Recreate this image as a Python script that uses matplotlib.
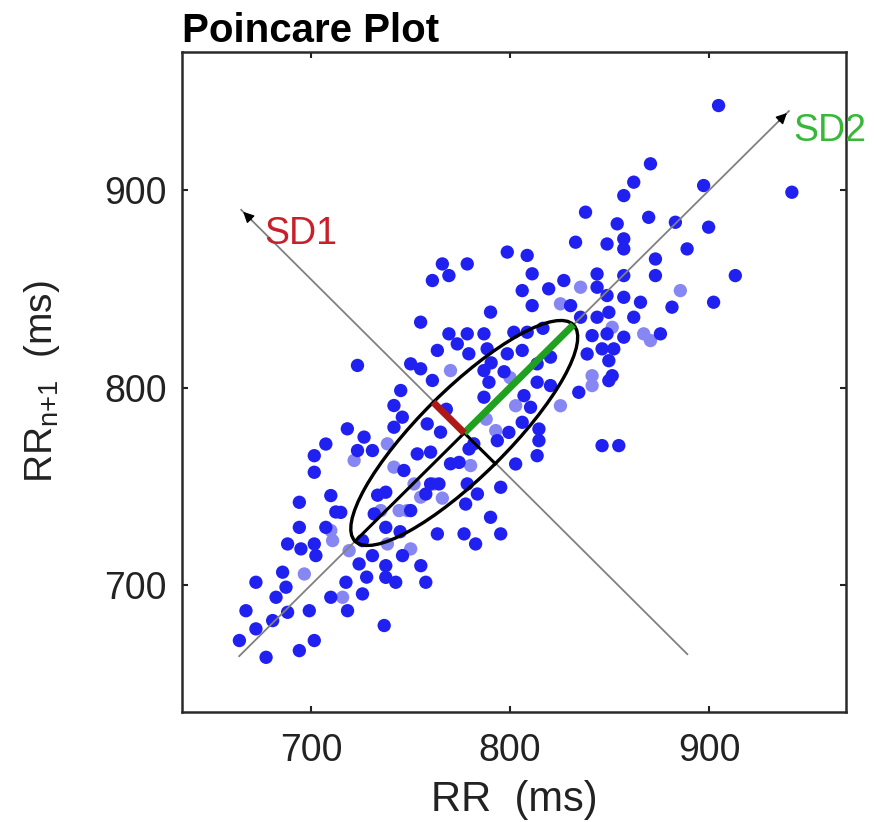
import numpy as np
import matplotlib
matplotlib.use('Agg')
import matplotlib.pyplot as plt
from matplotlib.patches import Ellipse

plt.rcParams['font.family'] = ['Liberation Sans', 'DejaVu Sans']
plt.rcParams['mathtext.fontset'] = 'custom'
plt.rcParams['mathtext.rm'] = 'Liberation Sans'

# RR(n), RR(n+1) in ms
rr_x = [707.5, 701.7, 701.7, 694.2, 710.0, 694.2, 715.0, 688.3, 695.0, 701.7, 707.5, 702.5,
        685.8, 672.4, 687.5, 682.5, 667.4, 688.3, 699.2, 672.4, 680.8, 664.1, 677.5, 694.2,
        701.7, 710.0, 717.6, 718.4, 725.9, 736.8, 737.6, 737.6, 742.6, 755.2, 757.7, 763.5,
        746.0, 730.9, 724.2, 725.9, 737.6, 750.1, 757.7, 764.3, 737.6, 731.8,
        766.0, 778.5, 761.0, 769.3, 798.6, 808.6, 811.1, 806.1, 819.4, 827.0, 811.1, 790.2,
        755.1, 769.3, 778.5, 786.9, 773.5, 763.5, 779.3, 788.5, 801.9, 808.6, 798.6, 806.1,
        723.4, 750.1, 755.1, 761.0, 786.9, 813.6, 820.3, 745.1, 741.7, 718.3, 741.7, 745.9,
        758.4, 765.1, 723.4, 726.7, 730.9, 753.4, 760.1, 746.7,
        789.4, 813.6, 820.3, 786.9, 807.0, 810.3, 834.5, 849.6, 799.4, 806.1, 814.5, 814.5,
        813.6, 802.8, 793.6, 846.2, 854.6, 779.4, 774.4, 795.3, 783.6, 777.7, 790.2, 776.9,
        795.3, 782.7,
        862.1, 897.2, 857.1, 837.9, 869.6, 883.0, 853.8, 899.7, 832.9, 848.7, 857.1, 857.1,
        888.9, 873.0, 843.7, 857.1, 873.0, 913.1, 843.7, 830.4, 848.7, 857.1, 865.5, 881.3,
        902.2, 849.6, 843.7, 835.4, 862.1, 841.2, 848.7, 857.1, 875.5, 838.7, 846.2, 852.1,
        849.6, 851.3, 904.7, 941.5, 870.5,
        760.1, 770.1, 781.8, 778.5, 744.8, 733.5, 768.0, 790.5, 797.0, 816.5, 728.0, 712.5]
rr_y = [771.4, 765.5, 757.1, 741.9, 745.3, 729.2, 736.8, 720.8, 718.3, 720.8, 729.2, 714.9,
        706.5, 701.4, 698.9, 693.8, 687.0, 686.2, 687.0, 677.8, 682.0, 671.9, 663.4, 666.8,
        671.9, 693.8, 701.4, 687.0, 695.5, 679.5, 709.8, 703.9, 701.4, 709.8, 701.4, 725.9,
        714.9, 714.9, 710.7, 722.5, 747.0, 737.7, 746.1, 751.2, 729.2, 736.0,
        862.6, 862.6, 854.2, 856.7, 868.6, 866.9, 857.6, 849.1, 850.0, 854.2, 841.5, 838.2,
        833.1, 827.2, 827.2, 827.2, 822.1, 818.8, 817.1, 819.6, 828.0, 828.0, 817.1, 818.8,
        811.2, 812.0, 809.5, 803.6, 808.6, 812.0, 815.4, 798.5, 790.9, 779.1, 779.9, 785.0,
        781.6, 777.4, 768.1, 774.9, 768.1, 766.4, 767.3, 758.0,
        802.7, 802.7, 801.0, 795.1, 795.9, 790.0, 797.6, 803.5, 777.3, 782.4, 779.0, 773.1,
        765.5, 761.3, 773.1, 770.6, 770.6, 768.9, 762.1, 749.5, 746.1, 741.0, 734.3, 725.9,
        725.9, 720.8,
        904.0, 902.3, 897.2, 888.8, 886.2, 883.7, 882.9, 881.2, 873.6, 872.7, 875.3, 870.2,
        870.2, 865.1, 857.5, 856.7, 856.7, 856.7, 850.8, 841.5, 846.6, 845.7, 843.2, 840.7,
        843.2, 838.1, 835.6, 835.6, 835.6, 826.3, 827.2, 825.5, 827.2, 817.0, 819.6, 819.6,
        813.6, 806.0, 942.8, 898.9, 913.3,
        751.2, 761.4, 771.5, 751.2, 727.0, 745.5, 789.0, 812.5, 808.0, 830.0, 704.0, 737.0]

# paler dots (overlapping beats)
rr_x_pale = [710.9, 696.7, 715.9, 750.1, 719.2, 744.3, 825.3, 770.1, 738.4, 721.7,
             802.8, 825.3, 841.2, 792.8, 780.2, 835.4, 885.5, 851.3, 867.1, 870.5, 841.2,
             741.7, 751.8, 761.8, 748.4, 755.1, 735.1, 710.0, 738.4, 766.0, 788.0, 800.0]
rr_y_pale = [722.5, 705.6, 693.8, 718.3, 717.4, 737.7, 842.4, 808.6, 771.5, 763.1,
             790.8, 790.8, 801.0, 778.2, 760.5, 850.8, 849.1, 830.5, 827.2, 823.8, 806.0,
             759.7, 751.2, 751.2, 737.7, 744.5, 737.7, 727.6, 720.8, 744.0, 784.0, 805.0]

# descriptors
rr_mean = 777.0
sd1 = 22.0
sd2 = 77.5

# guide lines (identity line and its perpendicular)
line_id = [664.0, 940.0]
line_perp_x = [889.0, 665.0]
line_perp_y = [665.0, 890.0]

fig = plt.figure(figsize=(8.76, 8.22), dpi=100)
ax = fig.add_axes([0.2078, 0.1338, 0.758, 0.8029])

ax.scatter(rr_x_pale, rr_y_pale, s=92, color='#8787f4', edgecolors='none', zorder=2)
ax.scatter(rr_x, rr_y, s=92, color='#2020f0', edgecolors='none', zorder=3)

# gray axes of the poincare cloud
ax.plot(line_id, line_id, color='#808080', lw=1.3, zorder=4)
ax.plot(line_perp_x, line_perp_y, color='#808080', lw=1.3, zorder=4)
ax.annotate('', xy=(line_id[1], line_id[1]), xytext=(line_id[1] - 6, line_id[1] - 6),
            arrowprops=dict(arrowstyle='-|>', color='k', lw=1, mutation_scale=16), zorder=5)
ax.annotate('', xy=(line_perp_x[1], line_perp_y[1]), xytext=(line_perp_x[1] + 6, line_perp_y[1] - 6),
            arrowprops=dict(arrowstyle='-|>', color='k', lw=1, mutation_scale=16), zorder=5)

# fitted ellipse
ell = Ellipse((rr_mean, rr_mean), 2 * sd2, 2 * sd1, angle=45, fill=False,
              edgecolor='k', lw=2.4, zorder=6)
ax.add_patch(ell)

u = 1 / np.sqrt(2)
ax.plot([rr_mean, rr_mean - sd2 * u], [rr_mean, rr_mean - sd2 * u], color='k', lw=2.2, zorder=6)
ax.plot([rr_mean, rr_mean + sd1 * u], [rr_mean, rr_mean - sd1 * u], color='k', lw=2.2, zorder=6)
ax.plot([rr_mean, rr_mean + sd2 * u], [rr_mean, rr_mean + sd2 * u], color='#1fa01f', lw=5,
        solid_capstyle='butt', zorder=7)
ax.plot([rr_mean, rr_mean - sd1 * u], [rr_mean, rr_mean + sd1 * u], color='#b01818', lw=5,
        solid_capstyle='butt', zorder=7)

ax.text(676.4, 872.9, 'SD1', color='#c8202a', fontsize=27, ha='left', va='baseline', zorder=8)
ax.text(942.1, 925.1, 'SD2', color='#38b838', fontsize=27, ha='left', va='baseline',
        zorder=8, clip_on=False)

ax.set_xlim(635.3, 968.7)
ax.set_ylim(635.7, 969.9)
ax.set_xticks([700, 800, 900])
ax.set_yticks([700, 800, 900])
ax.tick_params(direction='in', length=4, width=1.5, top=True, right=True,
               labelsize=27, labelcolor='#222222', color='#222222')
ax.tick_params(axis='x', pad=15)
ax.tick_params(axis='y', pad=11)
for s in ax.spines.values():
    s.set_linewidth(1.8)
    s.set_color('#2a2a2a')

ax.set_xlabel('RR  (ms)', fontsize=30, color='#222222', labelpad=8)
ax.set_ylabel(r'RR$_{\mathrm{n{+}1}}$  (ms)', fontsize=28, color='#222222', labelpad=30)
ax.set_title('Poincare Plot', loc='left', fontweight='bold', fontsize=29, pad=7)

plt.savefig('out.png', dpi=100)
